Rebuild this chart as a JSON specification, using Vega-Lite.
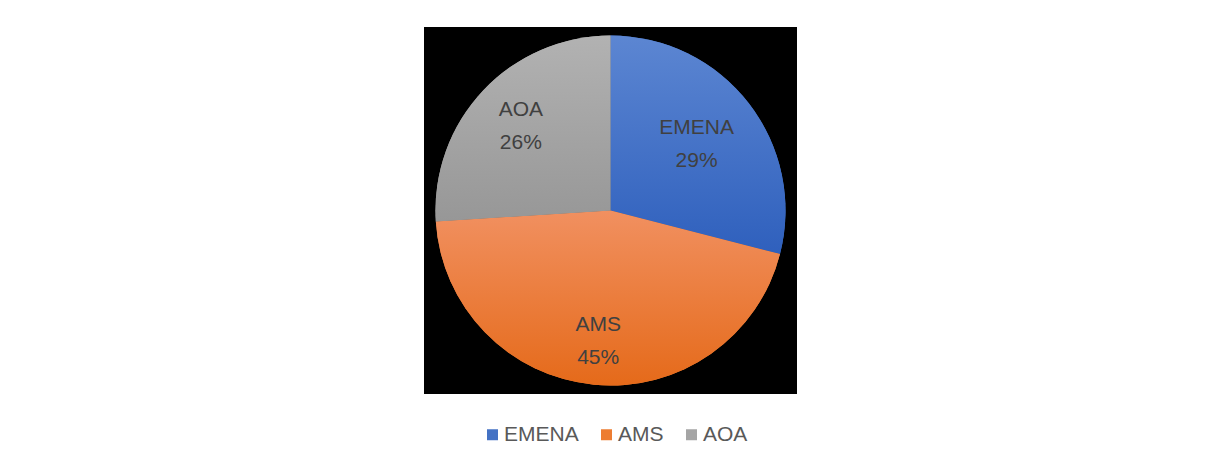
{
  "$schema": "https://vega.github.io/schema/vega-lite/v6.json",
  "background": "white",
  "padding": {"left": 424, "top": 27, "right": 0, "bottom": 0},
  "width": 373,
  "height": 367,
  "view": {"fill": "black", "stroke": null},
  "data": {
    "values": [
      {"region": "EMENA", "value": 29},
      {"region": "AMS", "value": 45},
      {"region": "AOA", "value": 26}
    ]
  },
  "transform": [
    {"window": [{"op": "row_number", "as": "idx"}]},
    {"window": [{"op": "sum", "field": "value", "as": "cum"}], "sort": [{"field": "idx"}]},
    {"calculate": "datum.cum - datum.value", "as": "start"},
    {"calculate": "(datum.start + datum.cum) / 2", "as": "mid"},
    {"calculate": "datum.region + '\\n' + datum.value + '%'", "as": "label"}
  ],
  "layer": [
    {
      "mark": {"type": "arc", "outerRadius": 175, "stroke": null},
      "encoding": {
        "theta": {"field": "start", "type": "quantitative", "scale": {"domain": [0, 100]}},
        "theta2": {"field": "cum"},
        "color": {
          "field": "region",
          "type": "nominal",
          "sort": ["EMENA", "AMS", "AOA"],
          "scale": {
            "domain": ["EMENA", "AMS", "AOA"],
            "range": ["#4472c4", "#ed7d31", "#a5a5a5"]
          },
          "legend": {
            "orient": "none",
            "legendX": 58,
            "legendY": 397,
            "direction": "horizontal",
            "title": null,
            "symbolType": "square",
            "symbolSize": 121,
            "symbolStrokeWidth": 0,
            "labelFontSize": 21,
            "labelFont": "Liberation Sans",
            "labelColor": "#595959",
            "labelOffset": 1,
            "columnPadding": 17
          }
        }
      }
    },
    {
      "transform": [{"filter": "datum.region === 'EMENA'"}],
      "mark": {"type": "arc", "outerRadius": 175, "stroke": null,
        "fill": {"gradient": "linear", "x1": 0, "y1": 0, "x2": 0, "y2": 1, "stops": [{"offset": 0, "color": "#5c86d2"}, {"offset": 1, "color": "#2f60bd"}]}},
      "encoding": {
        "theta": {"field": "start", "type": "quantitative"},
        "theta2": {"field": "cum"}
      }
    },
    {
      "transform": [{"filter": "datum.region === 'AMS'"}],
      "mark": {"type": "arc", "outerRadius": 175, "stroke": null,
        "fill": {"gradient": "linear", "x1": 0, "y1": 0, "x2": 0, "y2": 1, "stops": [{"offset": 0, "color": "#f19060"}, {"offset": 1, "color": "#e56a1a"}]}},
      "encoding": {
        "theta": {"field": "start", "type": "quantitative"},
        "theta2": {"field": "cum"}
      }
    },
    {
      "transform": [{"filter": "datum.region === 'AOA'"}],
      "mark": {"type": "arc", "outerRadius": 175, "stroke": null,
        "fill": {"gradient": "linear", "x1": 0, "y1": 0, "x2": 0, "y2": 1, "stops": [{"offset": 0, "color": "#b2b2b2"}, {"offset": 1, "color": "#979797"}]}},
      "encoding": {
        "theta": {"field": "start", "type": "quantitative"},
        "theta2": {"field": "cum"}
      }
    },
    {
      "transform": [{"filter": "datum.region === 'EMENA'"}],
      "mark": {"type": "text", "radius": 109, "dy": -16, "fontSize": 21, "font": "Liberation Sans", "color": "#404040", "lineBreak": "\n", "lineHeight": 33, "align": "center", "baseline": "middle"},
      "encoding": {
        "theta": {"field": "mid", "type": "quantitative"},
        "text": {"field": "label", "type": "nominal"}
      }
    },
    {
      "transform": [{"filter": "datum.region === 'AMS'"}],
      "mark": {"type": "text", "radius": 131, "dy": -16, "fontSize": 21, "font": "Liberation Sans", "color": "#404040", "lineBreak": "\n", "lineHeight": 33, "align": "center", "baseline": "middle"},
      "encoding": {
        "theta": {"field": "mid", "type": "quantitative"},
        "text": {"field": "label", "type": "nominal"}
      }
    },
    {
      "transform": [{"filter": "datum.region === 'AOA'"}],
      "mark": {"type": "text", "radius": 123, "dy": -16, "fontSize": 21, "font": "Liberation Sans", "color": "#404040", "lineBreak": "\n", "lineHeight": 33, "align": "center", "baseline": "middle"},
      "encoding": {
        "theta": {"field": "mid", "type": "quantitative"},
        "text": {"field": "label", "type": "nominal"}
      }
    }
  ]
}
